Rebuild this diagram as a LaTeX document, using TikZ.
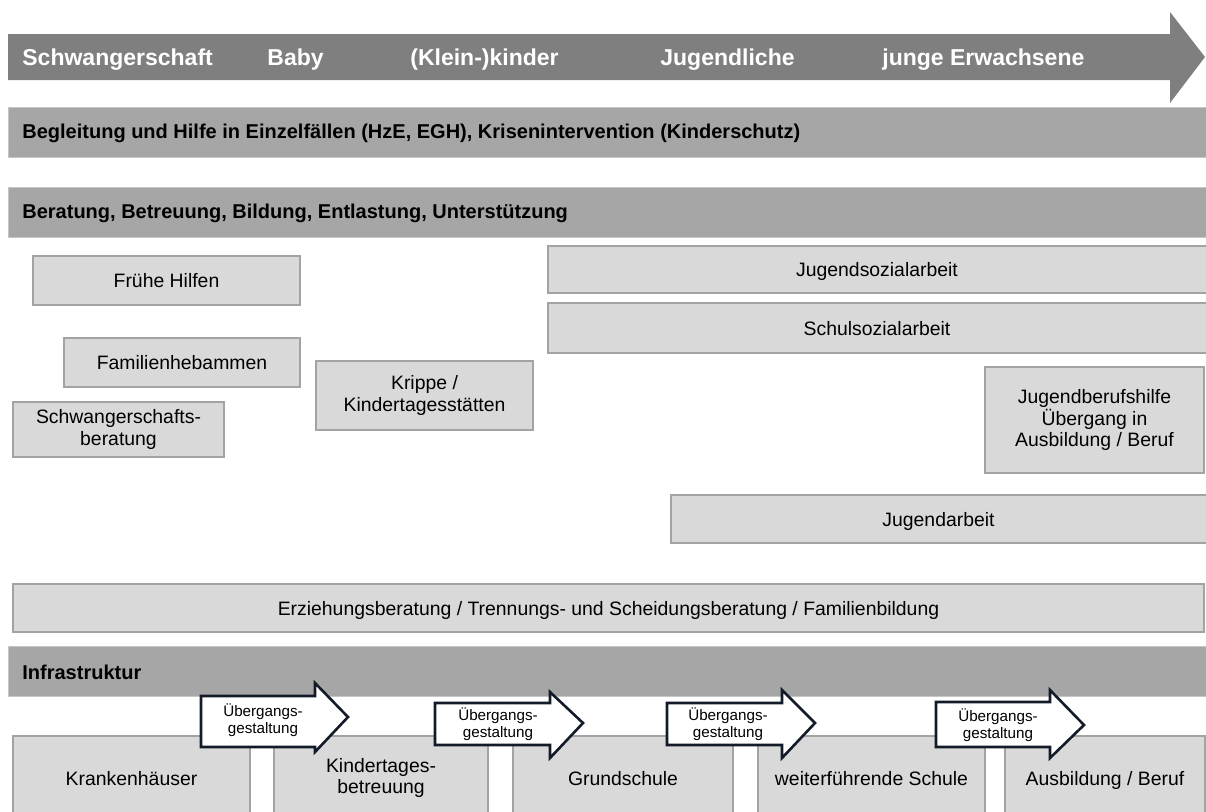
\documentclass[tikz,border=0pt]{standalone}
\usepackage{fontspec}
\setmainfont{Liberation Sans}
\usetikzlibrary{fit}

\definecolor{timegray}{HTML}{7F7F7F}
\definecolor{bargray}{HTML}{A6A6A6}
\definecolor{barline}{HTML}{C6C6C6}
\definecolor{boxfill}{HTML}{D9D9D9}
\definecolor{boxline}{HTML}{A3A3A3}
\definecolor{arrowline}{HTML}{121B27}

\begin{document}
\begin{tikzpicture}[x=0.5pt,y=-0.5pt,
  box/.style={draw=boxline,fill=boxfill,line width=1.2pt,inner sep=0pt},
  boxtext/.style={align=center,inner sep=0pt,font=\fontsize{9.7}{10.9}\selectfont},
  oneline/.style={boxtext,text height=0.72em,text depth=0pt},
  bar/.style={draw=barline,fill=bargray,line width=0.4pt,inner sep=0pt},
  bartext/.style={anchor=base west,inner sep=0pt,font=\fontsize{10}{11}\selectfont\bfseries},
  agetext/.style={anchor=base west,inner sep=0pt,text=white,font=\fontsize{11.5}{13}\selectfont\bfseries},
  uearrow/.style={draw=arrowline,fill=white,line width=1.3pt,line join=miter},
  uetext/.style={align=center,inner sep=0pt,font=\fontsize{7.6}{8.6}\selectfont}]

\clip (0,0) rectangle (1206,811);

\fill[timegray] (8,34) -- (1170,34) -- (1170,12) -- (1205,57) -- (1170,103) -- (1170,80) -- (8,80) -- cycle;
\node[agetext] (schw) at (22,65) {Schwangerschaft};
\node[agetext] (baby) at (267,65) {Baby};
\node[agetext] (klein) at (410,65) {(Klein-)kinder};
\node[agetext] (jugend) at (660,65) {Jugendliche};
\node[agetext] (junge) at (882,65) {junge Erwachsene};

\node[bar,fit={(8,107) (1212,157)}] (begl) {};
\node[bartext] (begltext) at (22,138) {Begleitung und Hilfe in Einzelfällen (HzE, EGH), Krisenintervention (Kinderschutz)};
\node[bar,fit={(8,187) (1212,237)}] (bera) {};
\node[bartext] (beratext) at (22,218) {Beratung, Betreuung, Bildung, Entlastung, Unterstützung};

\node[box,fit={(33,256) (300,305)}] (fruehe) {};
\node[oneline] at (fruehe) {Frühe Hilfen};
\node[box,fit={(64,338) (300,387)}] (famheb) {};
\node[oneline] at (famheb) {Familienhebammen};
\node[box,fit={(13,402) (224,457)}] (schwber) {};
\node[boxtext] at (schwber) {Schwangerschafts-\\beratung};
\node[box,fit={(316,361) (533,430)}] (krippe) {};
\node[boxtext] at (krippe) {Krippe /\\Kindertagesstätten};
\node[box,fit={(548,246) (1212,293)}] (jsa) {};
\node[oneline] at ([xshift=-1.5pt]jsa.center) {Jugendsozialarbeit};
\node[box,fit={(548,303) (1212,353)}] (ssa) {};
\node[oneline] at ([xshift=-1.5pt]ssa.center) {Schulsozialarbeit};
\node[box,fit={(985,367) (1204,473)}] (jbh) {};
\node[boxtext] at (jbh) {Jugendberufshilfe\\Übergang in\\Ausbildung / Beruf};
\node[box,fit={(671,495) (1212,543)}] (ja) {};
\node[oneline] at ([xshift=-1.5pt]ja.center) {Jugendarbeit};
\node[box,fit={(13,584) (1204,632)}] (erz) {};
\node[oneline] at (erz) {Erziehungsberatung / Trennungs- und Scheidungsberatung / Familienbildung};

\node[bar,fit={(8,646) (1212,696)}] (infra) {};
\node[bartext] (infratext) at (22,679) {Infrastruktur};

\node[box,fit={(13,736) (250,820)}] (kh) {};
\node[oneline] at (kh) {Krankenhäuser};
\node[box,fit={(274,736) (488,820)}] (kita) {};
\node[boxtext] at (kita) {Kindertages-\\betreuung};
\node[box,fit={(513,736) (733,820)}] (gs) {};
\node[oneline] at (gs) {Grundschule};
\node[box,fit={(758,736) (985,820)}] (wfs) {};
\node[oneline] at (wfs) {weiterführende Schule};
\node[box,fit={(1005,736) (1205,820)}] (ab) {};
\node[oneline] at (ab) {Ausbildung / Beruf};

\draw[uearrow] (201,696) -- (315,696) -- (315,683) -- (348,717) -- (315,752) -- (315,747) -- (201,747) -- cycle;
\node[uetext] (ue1) at (263,720) {Übergangs-\\gestaltung};
\draw[uearrow] (435,703) -- (550,703) -- (550,692) -- (583,723) -- (550,758) -- (550,745) -- (435,745) -- cycle;
\node[uetext] (ue2) at (498,724) {Übergangs-\\gestaltung};
\draw[uearrow] (667,703) -- (782,703) -- (782,690) -- (815,723) -- (782,758) -- (782,745) -- (667,745) -- cycle;
\node[uetext] (ue3) at (728,724) {Übergangs-\\gestaltung};
\draw[uearrow] (936,702) -- (1050,702) -- (1050,690) -- (1084,725) -- (1050,758) -- (1050,747) -- (936,747) -- cycle;
\node[uetext] (ue4) at (998,725) {Übergangs-\\gestaltung};
\end{tikzpicture}
\end{document}
